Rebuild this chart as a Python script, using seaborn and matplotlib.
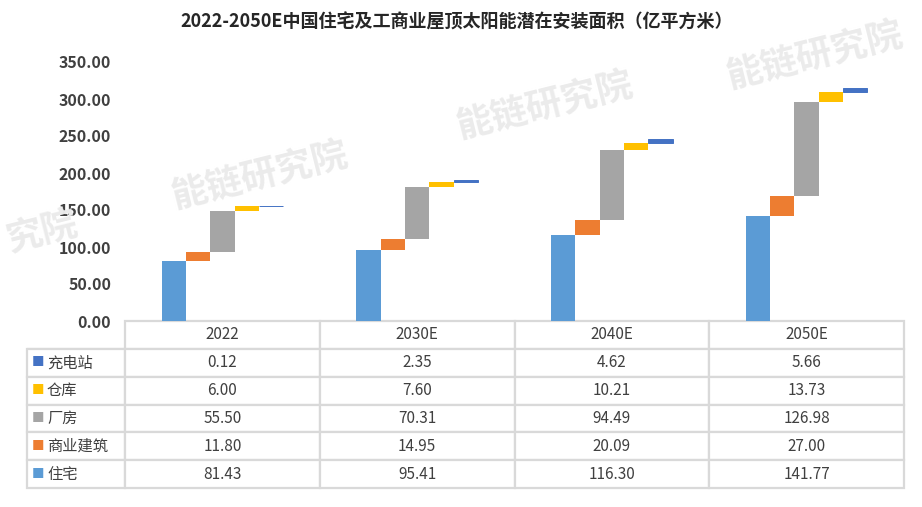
import numpy as np
import pandas as pd
import matplotlib.pyplot as plt
import seaborn as sns

# Data
years = ["2022", "2030E", "2040E", "2050E"]
series = ["住宅", "商业建筑", "厂房", "仓库", "充电站"]
zhuzhai = [81.43, 95.41, 116.30, 141.77]
shangye = [11.80, 14.95, 20.09, 27.00]
changfang = [55.50, 70.31, 94.49, 126.98]
cangku = [6.00, 7.60, 10.21, 13.73]
chongdian = [0.12, 2.35, 4.62, 5.66]
colors = ["#5B9BD5", "#ED7D31", "#A5A5A5", "#FFC000", "#4472C4"]
yticks = [0, 50, 100, 150, 200, 250, 300, 350]

values = [zhuzhai, shangye, changfang, cangku, chongdian]
bottoms = np.vstack([np.zeros(4), np.cumsum(values, axis=0)[:-1]])

df = pd.DataFrame({
    "year": years * len(series),
    "series": np.repeat(series, len(years)),
    "value": np.concatenate(values),
})

sns.set_style("white")
plt.rcParams["font.family"] = ["Noto Sans CJK SC", "DejaVu Sans"]
text_color = "#404040"
grid_color = "#d9d9d9"

fig = plt.figure(figsize=(9.22, 5.07), dpi=100)
ax = fig.add_axes([125 / 922, 1 - 321 / 507, 779 / 922, 259 / 507])

sns.barplot(data=df, x="year", y="value", hue="series", order=years,
            hue_order=series, palette=colors, width=0.625, saturation=1,
            errorbar=None, legend=False, linewidth=0, ax=ax)

# waterfall: lift each bar onto the running total
for cont, bots, col in zip(ax.containers, bottoms, colors):
    for bar, b in zip(cont, bots):
        bar.set_y(b)
# keep the very thin charging-station bars visible
for bar in ax.containers[-1]:
    bar.set_edgecolor(colors[-1])
    bar.set_linewidth(0.7)

ax.set_ylim(0, 350)
ax.set_xlim(-0.5, 3.5)
ax.set_yticks(yticks)
ax.set_yticklabels([f"{v:.2f}" for v in yticks], fontsize=11.5,
                   fontweight="bold", color=text_color)
ax.set_xticks([])
ax.set_xlabel("")
ax.set_ylabel("")
ax.tick_params(axis="y", length=0, pad=10)
for s in ax.spines.values():
    s.set_visible(False)

# data table below the plot
rows = list(reversed(series))
row_vals = list(reversed(values))
cell_text = [[""] + years] + [[""] + [f"{v:.2f}" for v in vals] for vals in row_vals]
x0 = (27 - 125) / 779
y0 = (321 - 488) / 259
tbl = ax.table(cellText=cell_text, cellLoc="center",
               colWidths=[98] + [194.75] * 4,
               bbox=[x0, y0, 1 - x0, -y0])
tbl.auto_set_font_size(False)
for (r, c), cell in tbl.get_celld().items():
    cell.set_edgecolor(grid_color)
    cell.set_linewidth(1.6)
    cell.get_text().set_fontsize(11)
    cell.get_text().set_color(text_color)
    if r == 0 and c == 0:
        cell.visible_edges = "B"

nrows = len(rows) + 1
for i, (name, col) in enumerate(zip(rows, reversed(colors))):
    yc = y0 * (i + 1.5) / nrows
    ax.text((38 - 125) / 779, yc, "■", color=col, fontsize=9,
            ha="center", va="center", transform=ax.transAxes)
    ax.text((47 - 125) / 779, yc, name, color=text_color, fontsize=11,
            ha="left", va="center", transform=ax.transAxes)

fig.text(0.495, 1 - 22 / 507,
         "2022-2050E中国住宅及工商业屋顶太阳能潜在安装面积（亿平方米）",
         ha="center", va="center", fontsize=13, fontweight="bold",
         color="#262626")

# watermark
marks = [("究院", 42, 232), ("能链研究院", 260, 175),
         ("能链研究院", 545, 105), ("能链研究院", 815, 55)]
for txt, wx, wy in marks:
    fig.text(wx / 922, 1 - wy / 507, txt, fontsize=26,
             fontweight="bold", color="#ebebeb", rotation=14,
             ha="center", va="center", zorder=0)

fig.savefig("out.png", dpi=100)
